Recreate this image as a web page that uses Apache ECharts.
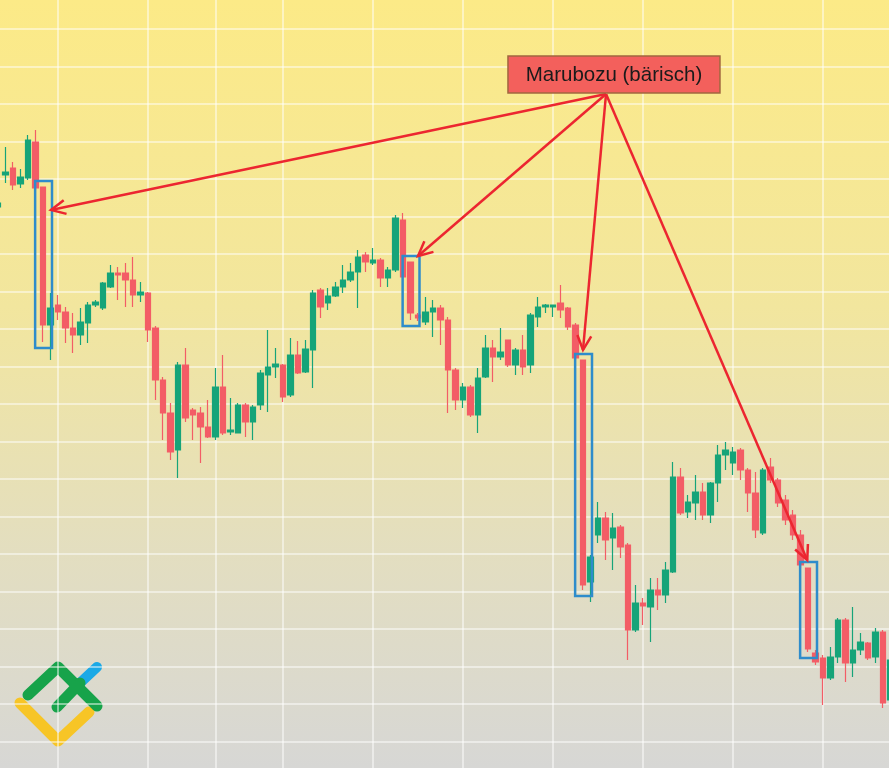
<!DOCTYPE html>
<html><head><meta charset="utf-8">
<script src="https://cdn.jsdelivr.net/npm/echarts@6/dist/echarts.min.js"></script>
<style>html,body{margin:0;padding:0;width:889px;height:768px;overflow:hidden}#c{width:889px;height:768px}</style>
</head><body><div id="c"></div><script>
// candle index runs from -1 to 118
const firstIndex = -1;
const open  = [572,604,611,595,601,637,592,454,474,467,451,444,456,474,471,492,506,506,499,484,486,451,399,366,329,414,369,366,352,342,392,347,346,374,357,374,404,412,414,384,424,407,429,489,476,483,492,499,507,524,516,519,501,509,559,517,464,457,467,471,459,409,379,392,364,402,431,422,439,414,429,414,462,472,472,476,471,454,419,197,244,261,241,252,234,149,176,172,189,184,207,302,267,276,287,264,296,324,316,329,309,286,246,312,299,279,264,244,211,126,121,101,122,159,116,129,136,122,147,79];
const close = [576,607,594,602,639,591,454,471,467,451,444,457,474,477,496,506,504,499,484,487,449,399,366,327,414,361,364,352,342,392,346,349,374,357,372,406,412,415,382,424,406,430,486,472,483,492,499,507,522,517,519,501,509,561,502,466,461,467,471,459,409,379,392,364,401,431,422,427,414,429,412,464,472,474,474,469,452,421,194,222,261,239,251,232,149,176,173,189,184,209,302,266,277,287,264,296,324,329,327,309,286,249,309,299,276,259,244,214,130,117,101,122,159,116,129,137,121,147,76,119];
const low   = [564,596,589,591,599,589,437,419,459,436,426,434,436,472,469,491,479,472,472,477,437,379,339,319,301,357,339,316,341,339,344,344,346,342,339,369,367,401,377,382,405,406,391,461,469,482,486,497,471,507,514,492,492,507,501,459,458,454,442,434,366,369,371,362,346,401,397,419,412,404,404,406,452,466,462,461,449,419,189,177,236,219,209,221,119,147,154,137,169,176,206,264,261,259,259,256,277,309,304,299,267,241,244,296,272,254,239,211,127,114,74,99,116,97,102,124,119,116,71,74];
const high  = [584,632,617,610,644,649,592,486,484,472,466,471,477,479,497,514,512,516,522,497,487,453,402,376,417,431,371,372,379,411,424,381,376,376,374,409,449,431,415,441,438,439,489,491,491,497,514,516,529,527,531,521,512,564,566,517,466,482,479,474,462,411,396,394,411,444,439,451,439,431,444,466,482,475,474,494,472,456,419,224,277,267,266,254,236,194,181,201,201,217,317,311,284,304,296,297,334,337,332,331,311,307,311,321,301,284,269,249,211,129,124,132,161,161,172,146,137,151,149,129];
const categories = open.map((_, k) => 'K' + (k + firstIndex));

// highlighted marubozu candles (candle index)
const marubozuIdx = [5, 54, 77, 107];
// annotation: label anchor and arrow tips (candle index, price)
const labelText = 'Marubozu (bärisch)';
const labelPos = [81.13, 704.5];
const arrowFrom = [80.07, 685];
const arrowTips = [[6.07, 569], [55.0, 523], [77.0, 429], [106.9, 219]];
// vertical grid lines at these candle indices
const vGridIdx = [7, 19, 28, 37, 49, 61, 73, 85, 97, 109];

const ohlc = open.map((o, k) => [o, close[k], low[k], high[k]]);
const boxData = marubozuIdx.map(i => [i, low[i - firstIndex], high[i - firstIndex]]);
const arrowData = arrowTips.map(t => [arrowFrom[0], arrowFrom[1], t[0], t[1]]);

const gridLine = {color: 'rgba(255,255,255,0.48)', width: 2};
const RED = '#F35D66', GREEN = '#16A479';

const chart = echarts.init(document.getElementById('c'));
chart.setOption({
  animation: false,
  backgroundColor: {type: 'linear', x: 0, y: 0, x2: 0, y2: 1, colorStops: [
    {offset: 0, color: '#FCEA87'}, {offset: 0.4, color: '#F2E69E'},
    {offset: 0.72, color: '#E3DEC0'}, {offset: 1, color: '#D7D7D5'}]},
  grid: {left: -2, right: -1.5, top: -8.5, bottom: -11, containLabel: false, outerBoundsMode: 'none'},
  xAxis: [
    {type: 'category', data: categories, boundaryGap: false,
     axisLine: {show: false}, axisTick: {show: false}, axisLabel: {show: false},
     splitLine: {show: true, interval: (idx) => vGridIdx.includes(idx + firstIndex), lineStyle: gridLine}},
    {type: 'value', min: firstIndex, max: firstIndex + open.length - 1, show: false}
  ],
  yAxis: {type: 'value', min: 0, max: 787.5, interval: 37.5,
    axisLine: {show: false}, axisTick: {show: false}, axisLabel: {show: false},
    splitLine: {show: true, lineStyle: gridLine}},
  series: [
    {type: 'candlestick', data: ohlc, barWidth: 6,
     itemStyle: {color: GREEN, color0: RED, borderColor: GREEN, borderColor0: RED, borderWidth: 1.2}},
    {type: 'custom', xAxisIndex: 1, data: boxData, z: 3,
     renderItem: (p, api) => {
       const a = api.coord([api.value(0) - 1.05, api.value(2)]);
       const b = api.coord([api.value(0) + 1.2, api.value(1)]);
       return {type: 'rect', shape: {x: a[0], y: a[1] - 6, width: b[0] - a[0], height: b[1] - a[1] + 12},
               style: {fill: 'none', stroke: '#2E8CCB', lineWidth: 2.5}};
     }},
    {type: 'custom', xAxisIndex: 1, data: arrowData, z: 4,
     renderItem: (p, api) => {
       const a = api.coord([api.value(0), api.value(1)]);
       const b = api.coord([api.value(2), api.value(3)]);
       const ang = Math.atan2(b[1] - a[1], b[0] - a[0]);
       const L = 16, s = 0.45;
       const h1 = [b[0] - L * Math.cos(ang - s), b[1] - L * Math.sin(ang - s)];
       const h2 = [b[0] - L * Math.cos(ang + s), b[1] - L * Math.sin(ang + s)];
       return {type: 'group', children: [
         {type: 'line', shape: {x1: a[0], y1: a[1], x2: b[0], y2: b[1]}, style: {stroke: '#EC2630', lineWidth: 2.5}},
         {type: 'polyline', shape: {points: [h1, b, h2]}, style: {stroke: '#EC2630', lineWidth: 2.5, fill: null, lineJoin: 'miter'}}
       ]};
     }},
    {type: 'custom', xAxisIndex: 1, data: [labelPos], z: 5,
     renderItem: (p, api) => {
       const c = api.coord([api.value(0), api.value(1)]);
       return {type: 'group', children: [
         {type: 'rect', shape: {x: c[0] - 106, y: c[1] - 18.5, width: 212, height: 37},
          style: {fill: '#F3605C', stroke: '#A1673F', lineWidth: 1.5}},
         {type: 'text', style: {text: labelText, x: c[0], y: c[1] + 1, align: 'center', verticalAlign: 'middle',
          font: '20.5px "Liberation Sans", Arial, sans-serif', fill: '#1B1B1B'}}
       ]};
     }}
  ],
  graphic: [
    {type: 'polyline', shape: {points: [[20, 703], [58, 741], [89, 712]]},
     style: {stroke: '#F7C526', lineWidth: 11, lineCap: 'round', lineJoin: 'round', fill: null}},
    {type: 'line', shape: {x1: 80, y1: 683, x2: 97, y2: 667},
     style: {stroke: '#1BA9E6', lineWidth: 10, lineCap: 'round'}},
    {type: 'polyline', shape: {points: [[28, 695], [58, 667], [97, 706]]},
     style: {stroke: '#17A34A', lineWidth: 11, lineCap: 'round', lineJoin: 'round', fill: null}},
    {type: 'line', shape: {x1: 57, y1: 707, x2: 80, y2: 683},
     style: {stroke: '#17A34A', lineWidth: 11, lineCap: 'round'}}
  ]
});
</script></body></html>
